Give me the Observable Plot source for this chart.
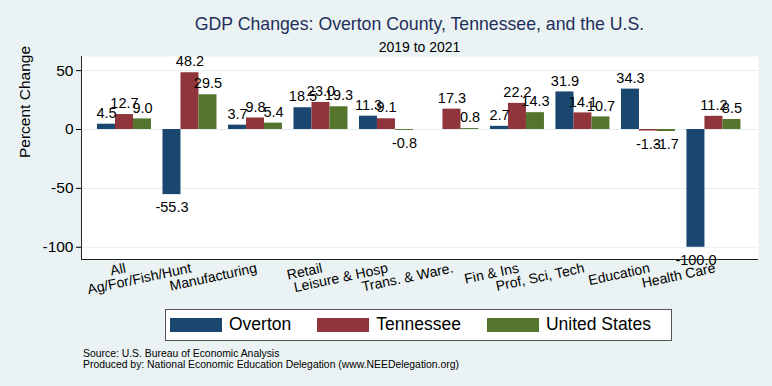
<!DOCTYPE html>
<html><head><meta charset="utf-8">
<script src="https://cdn.jsdelivr.net/npm/d3@7"></script>
<script src="https://cdn.jsdelivr.net/npm/@observablehq/plot@0.6"></script>
<style>
body{margin:0;background:#eaf2f3;font-family:"Liberation Sans",Arial,Helvetica,sans-serif;}
#wrap{position:relative;width:772px;height:386px;overflow:hidden;background:#eaf2f3;}
#title{position:absolute;left:81px;width:677px;top:16px;text-align:center;font-size:17.7px;line-height:1;color:#1f2f5a;white-space:nowrap;}
#subtitle{position:absolute;left:81px;width:677px;top:40px;text-align:center;font-size:14px;line-height:1;color:#000;}
#chart{position:absolute;left:0;top:50px;}
#legend{position:absolute;left:165px;top:309px;width:507px;height:32px;box-sizing:border-box;border:1.5px solid #555;background:#fff;display:flex;align-items:center;padding-left:4px;white-space:nowrap;}
#legend .item{display:flex;align-items:center;margin-right:26px;flex:none;}
#legend .item:last-child{margin-right:0;}
#legend .sw{width:52px;height:14px;margin-right:7px;flex:none;}
#legend .lb{font-size:17.5px;color:#000;line-height:1;white-space:nowrap;}
#caption{position:absolute;left:83px;top:348px;font-size:10.4px;line-height:11px;color:#000;white-space:nowrap;}
</style></head>
<body>
<div id="wrap">
  <div id="title"></div>
  <div id="subtitle"></div>
  <div id="chart"></div>
  <div id="legend"></div>
  <div id="caption"></div>
</div>
<script>
const titleText = "GDP Changes: Overton County, Tennessee, and the U.S.";
const subtitleText = "2019 to 2021";
const captionLines = ["Source: U.S. Bureau of Economic Analysis", "Produced by: National Economic Education Delegation (www.NEEDelegation.org)"];
const yLabel = "Percent Change";

const categories = ["All","Ag/For/Fish/Hunt","Manufacturing","Retail","Leisure & Hosp","Trans. & Ware.","Fin & Ins","Prof, Sci, Tech","Education","Health Care"];
const seriesNames = ["Overton","Tennessee","United States"];
const overton      = [4.5, -55.3, 3.7, 18.5, 11.3, null, 2.7, 31.9, 34.3, -100.0];
const tennessee    = [12.7, 48.2, 9.8, 23.0, 9.1, 17.3, 22.2, 14.1, -1.3, 11.2];
const unitedStates = [9.0, 29.5, 5.4, 19.3, -0.8, 0.8, 14.3, 10.7, -1.7, 8.5];
const colors = ["#1a476f","#90353b","#55752f"];
const yTicks = [-100, -50, 0, 50];
const yDomain = [-110.4, 62.0];

document.getElementById("title").textContent = titleText;
document.getElementById("subtitle").textContent = subtitleText;
document.getElementById("caption").innerHTML = captionLines.map(s => `<div>${s.replace(/&/g,"&amp;")}</div>`).join("");

const seriesValues = [overton, tennessee, unitedStates];
const barW = 18 / 65.5;            // one bar's width in group-step units
const pad = 0.244;                 // outer padding in group-step units
const xDomain = [-pad, categories.length - 1 + 3 * barW + 0.268];

const rows = [];
categories.forEach((c, i) => seriesValues.forEach((vals, j) => {
  if (vals[i] != null) rows.push({category: c, series: seriesNames[j], value: vals[i], x1: i + j * barW, x2: i + (j + 1) * barW});
}));
const centers = categories.map((c, i) => ({category: c, x: i + 1.5 * barW}));
const fmt = v => v.toFixed(1);

const plot = Plot.plot({
  width: 772, height: 254,
  marginLeft: 81, marginRight: 14, marginTop: 6, marginBottom: 45,
  style: {background: "none", fontFamily: "Liberation Sans, Arial, sans-serif", fontSize: "14px", color: "#000", overflow: "visible"},
  x: {domain: xDomain, axis: null},
  y: {domain: yDomain},
  color: {domain: seriesNames, range: colors},
  marks: [
    Plot.frame({fill: "white", stroke: "none"}),
    Plot.ruleY(yTicks, {stroke: "#e4edf0", strokeWidth: 1}),
    Plot.rect(rows, {x1: "x1", x2: "x2", y1: 0, y2: "value", fill: "series"}),
    Plot.text(rows.filter(d => d.value >= 0), {x: d => (d.x1 + d.x2) / 2, y: "value", text: d => fmt(d.value), dy: -11, fontSize: 14.5, fill: "#000"}),
    Plot.text(rows.filter(d => d.value < 0), {x: d => (d.x1 + d.x2) / 2, y: "value", text: d => fmt(d.value), dy: 13, fontSize: 14.5, fill: "#000"}),
    Plot.axisY({ticks: yTicks, tickSize: 5, tickPadding: 3, fontSize: 15.5, label: null, tickFormat: d => String(d)}),
    Plot.ruleX([xDomain[0]], {stroke: "#222", strokeWidth: 1}),
    Plot.ruleY([yDomain[0]], {stroke: "#222", strokeWidth: 1}),
    Plot.text(centers, {x: "x", frameAnchor: "bottom", text: "category", rotate: -12, textAnchor: "end", lineAnchor: "top", dy: 3, fontSize: 14, fill: "#000"}),
    Plot.text([yLabel], {frameAnchor: "left", dx: -56, rotate: -90, fontSize: 15.5, fill: "#000"})
  ]
});
document.getElementById("chart").appendChild(plot);

const legend = document.getElementById("legend");
seriesNames.forEach((s, i) => {
  const item = document.createElement("div");
  item.className = "item";
  item.innerHTML = `<div class="sw" style="background:${colors[i]}"></div><div class="lb">${s}</div>`;
  legend.appendChild(item);
});
</script>
</body></html>
